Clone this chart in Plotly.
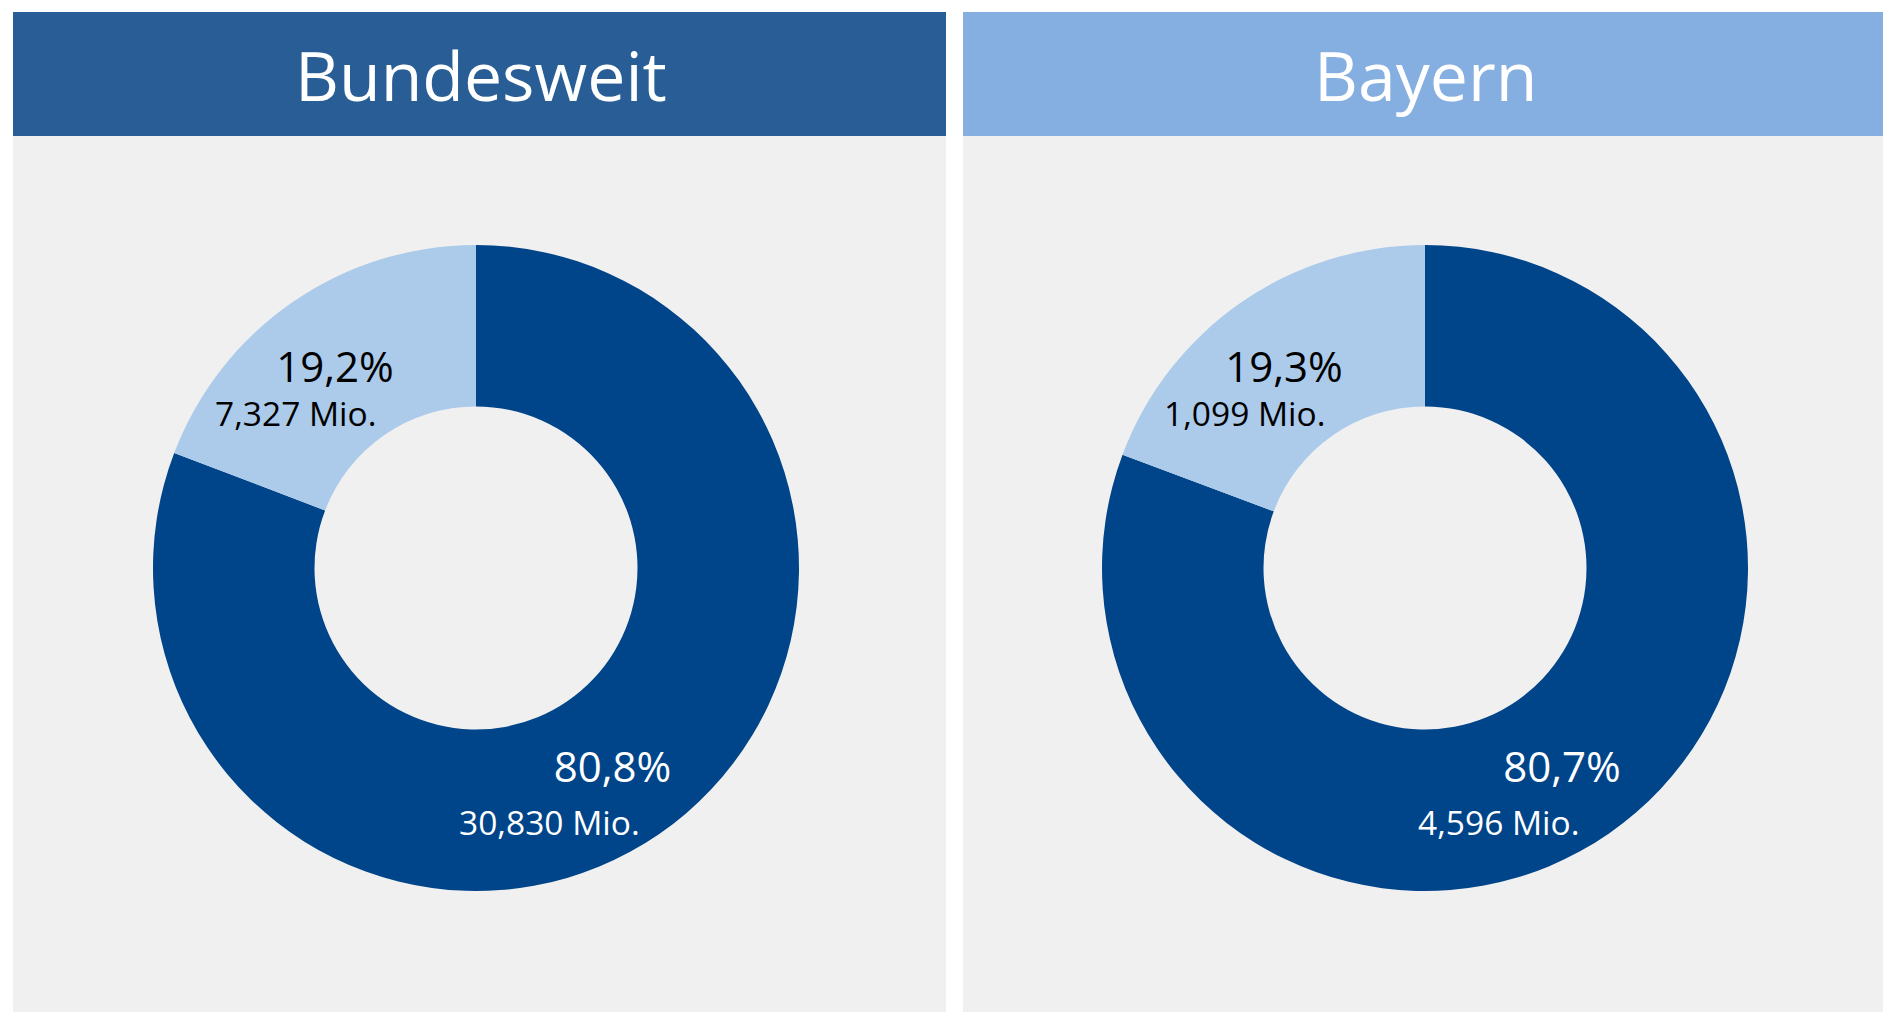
import plotly.graph_objects as go

# ---- data ----
panel_titles = ["Bundesweit", "Bayern"]
slice_names = ["Rest", "Anteil"]
values_bund = [30.830, 7.327]   # Mio.
values_bayern = [4.596, 1.099]  # Mio.
pct_bund = ["80,8%", "19,2%"]
pct_bayern = ["80,7%", "19,3%"]

W, H = 1883, 1012
DARK = "#004489"
LIGHT = "#ACCBEB"
PANEL_BG = "#F0F0F0"
HEAD_COLORS = ["#285E95", "#84AFE0"]
FONT = "Open Sans"

def px(x):
    return x / W

def py(y):
    return 1 - y / H

fig = go.Figure()

panels = [(13, 946), (963, 1883)]
centers = [(476, 568), (1425, 568)]
R = 323
all_values = [values_bund, values_bayern]
all_pcts = [pct_bund, pct_bayern]

NB = "&nbsp;"

def label(pct, val, lead, trail):
    return (f"<span style='font-size:42px'>{NB * lead}{pct}</span>"
            f"<br><span style='font-size:33.5px'>{val}{NB * trail}</span>")

shapes = []
annotations = []
for i, ((x0, x1), (cx, cy)) in enumerate(zip(panels, centers)):
    shapes.append(dict(type="rect", xref="paper", yref="paper",
                       x0=px(x0), x1=px(x1), y0=py(1012), y1=py(136),
                       fillcolor=PANEL_BG, line=dict(width=0), layer="below"))
    shapes.append(dict(type="rect", xref="paper", yref="paper",
                       x0=px(x0), x1=px(x1), y0=py(136), y1=py(12),
                       fillcolor=HEAD_COLORS[i], line=dict(width=0), layer="below"))
    annotations.append(dict(text=panel_titles[i], xref="paper", yref="paper",
                            x=px((x0 + x1) / 2 + 2), y=py(74), showarrow=False,
                            xanchor="center", yanchor="middle",
                            font=dict(family=FONT, size=68, color="white")))
    vals = all_values[i]
    fig.add_trace(go.Pie(
        values=vals, labels=slice_names, sort=False, direction="clockwise",
        rotation=0, hole=0.5, textinfo="none", hoverinfo="skip",
        marker=dict(colors=[DARK, LIGHT], line=dict(width=0)),
        domain=dict(x=[px(cx - R), px(cx + R)], y=[py(cy + R), py(cy - R)]),
        showlegend=False,
    ))
    pcts = all_pcts[i]
    val_txt = [f"{v:.3f}".replace(".", ",") + " Mio." for v in vals]
    # big slice label
    annotations.append(dict(text=label(pcts[0], val_txt[0], 6, 7),
                            xref="paper", yref="paper",
                            x=px(cx + 103.5), y=py(cy + 222.5), showarrow=False,
                            xanchor="center", yanchor="middle", align="center",
                            font=dict(family=FONT, size=40.5, color="white")))
    # small slice label
    annotations.append(dict(text=label(pcts[1], val_txt[1], 4, 4),
                            xref="paper", yref="paper",
                            x=px(cx - 162.6), y=py(cy - 181.5), showarrow=False,
                            xanchor="center", yanchor="middle", align="center",
                            font=dict(family=FONT, size=33.5, color="black")))

fig.update_layout(width=W, height=H, margin=dict(l=0, r=0, t=0, b=0),
                  paper_bgcolor="white", plot_bgcolor="white",
                  shapes=shapes, annotations=annotations)

fig.write_html("out.html", config={"displayModeBar": False})
with open("out.html", "r", encoding="utf-8") as f:
    html = f.read()
html = html.replace("<body>", '<body style="margin:0;overflow:hidden">', 1)
with open("out.html", "w", encoding="utf-8") as f:
    f.write(html)
